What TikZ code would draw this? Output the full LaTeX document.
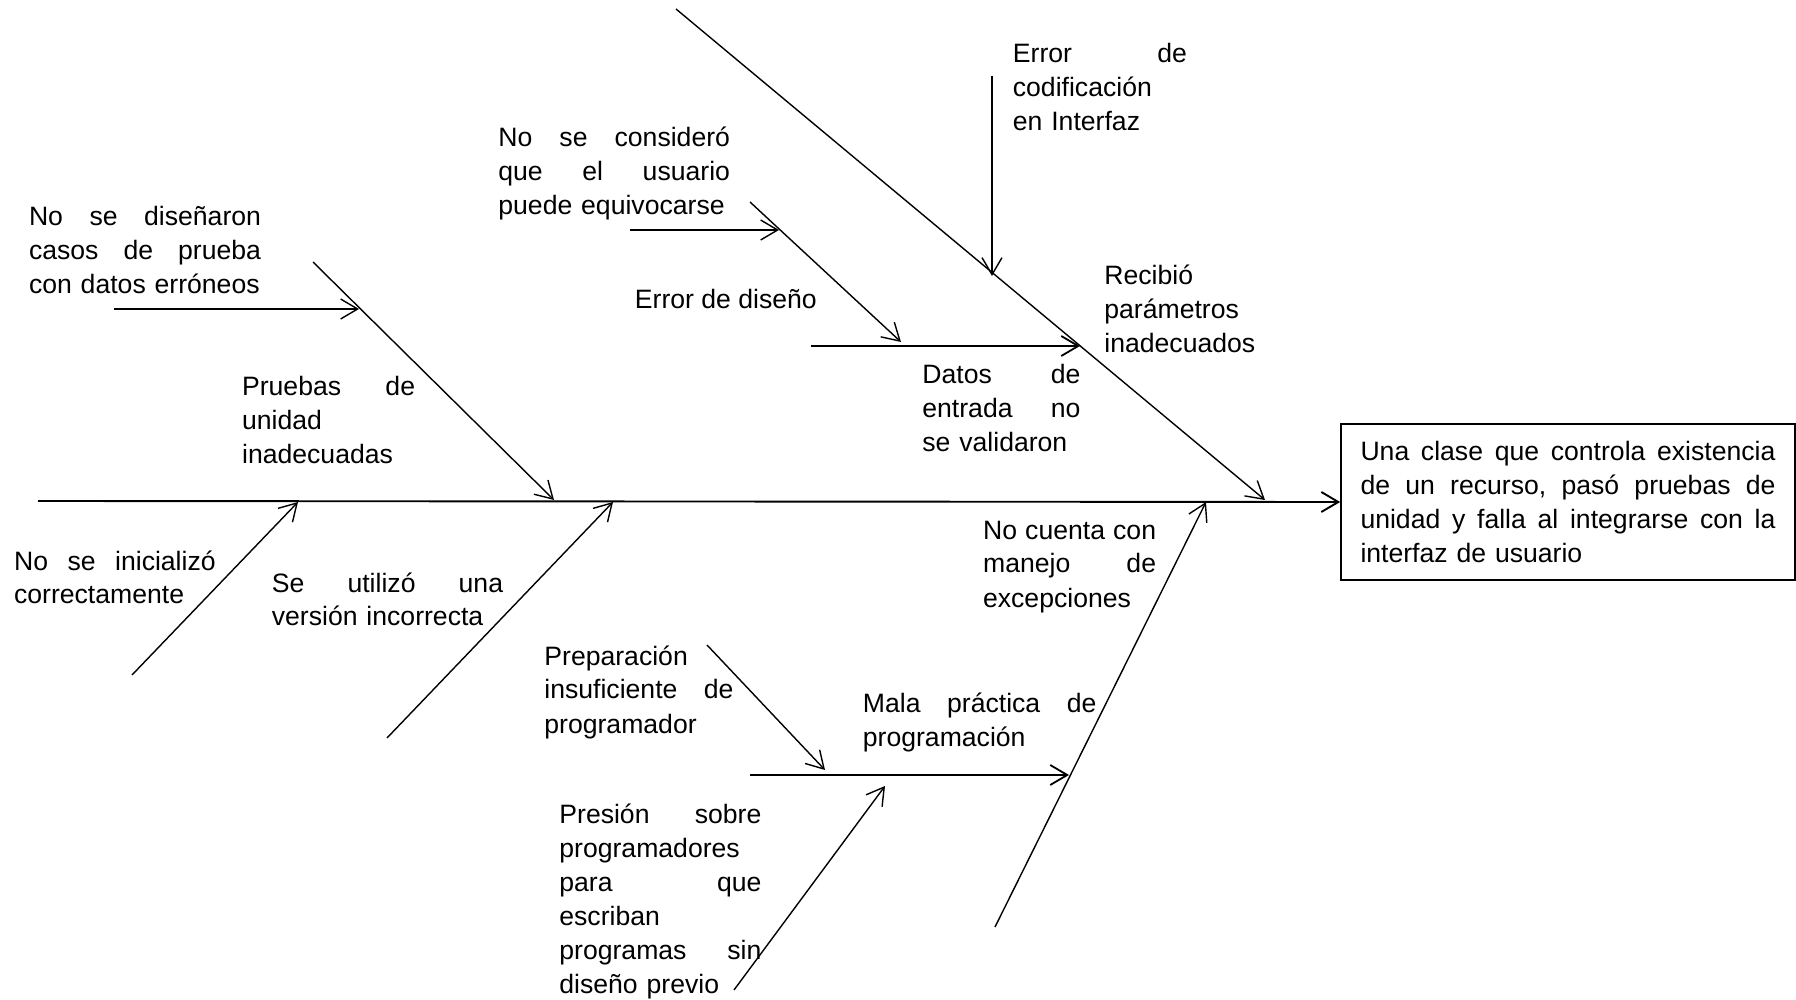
\documentclass[tikz,border=0pt]{standalone}
\usepackage{fontspec}
\setmainfont{Liberation Sans}
\usetikzlibrary{arrows.meta}
% one justified line: words separated by \hfill, spread to the label width
\newcommand\jwidth{100pt}
\newcommand\jl[1]{\leavevmode\hbox to \jwidth{#1}}
\begin{document}
\begin{tikzpicture}[x=0.5pt,y=-0.5pt,
  tip/.style={-{Straight Barb[length=8.5pt,width=10pt]}},
  spine/.style={tip,line width=0.95pt},
  bone/.style={tip,line width=0.7pt},
  twig/.style={tip,line width=0.9pt},
  label/.style={inner sep=0pt,anchor=base west,align=left,
    font=\fontsize{13.3pt}{17pt}\selectfont},
  jw/.style={text width=#1,execute at begin node={\renewcommand\jwidth{#1}}},
  effectbox/.style={draw,line width=0.8pt,inner sep=0pt,align=left,
    jw=207.5pt,minimum width=227pt,minimum height=78pt,
    font=\fontsize{13.3pt}{17pt}\selectfont}]
\useasboundingbox (0,0) rectangle (1796,1000);

% effect
\node[effectbox] (effect) at (1568,502)
  {\jl{Una\hfill clase\hfill que\hfill controla\hfill existencia}\\
   \jl{de\hfill un\hfill recurso,\hfill pasó\hfill pruebas\hfill de}\\
   \jl{unidad\hfill y\hfill falla\hfill al\hfill integrarse\hfill con\hfill la}\\
   interfaz de usuario};

% spine and bone end points
\coordinate (spineL) at (38,501);
\coordinate (b1s) at (313,262);  \coordinate (b1e) at (554,500);
\coordinate (b2s) at (676,9);    \coordinate (b2e) at (1265,500);
\coordinate (b3s) at (132,675);  \coordinate (b3e) at (298,502);
\coordinate (b4s) at (387,738);  \coordinate (b4e) at (613,502);
\coordinate (b5s) at (995,927);  \coordinate (b5e) at (1206,502);
% secondary causes
\coordinate (t1s) at (114,309);  \coordinate (t1e) at (359,309);
\coordinate (t2s) at (992,76);   \coordinate (t2e) at (992,276);
\coordinate (t3s) at (811,346);  \coordinate (t3e) at (1080,346);
\coordinate (t4s) at (750,202);  \coordinate (t4e) at (901,342);
\coordinate (t5s) at (630,230);  \coordinate (t5e) at (779,230);
\coordinate (t6s) at (750,775);  \coordinate (t6e) at (1069,775);
\coordinate (t7s) at (707,645);  \coordinate (t7e) at (825,770);
\coordinate (t8s) at (734,990);  \coordinate (t8e) at (885,786);

\draw[spine] (spineL) -- (effect.west);
\foreach \b in {b1,b2,b3,b4,b5} \draw[bone] (\b s) -- (\b e);
\draw[bone] (t1s) -- (t1e);
\draw[bone] (t2s) -- (t2e);
\draw[twig] (t3s) -- (t3e);
\draw[bone] (t4s) -- (t4e);
\draw[bone] (t5s) -- (t5e);
\draw[twig] (t6s) -- (t6e);
\draw[bone] (t7s) -- (t7e);
\draw[bone] (t8s) -- (t8e);

% cause labels
\node[label,jw=116pt] (nodis) at (28.6,225.5)
  {\jl{No\hfill se\hfill diseñaron}\\ \jl{casos\hfill de\hfill prueba}\\
   con datos erróneos};
\node[label,jw=86.5pt] (pruebas) at (241.7,396)
  {\jl{Pruebas\hfill de}\\ unidad\\ inadecuadas};
\node[label,jw=87pt] (errcod) at (1012.5,62.8)
  {\jl{Error\hfill de}\\ codificación\\ en Interfaz};
\node[label,jw=115.8pt] (nocons) at (498,146.4)
  {\jl{No\hfill se\hfill consideró}\\ \jl{que\hfill el\hfill usuario}\\
   puede equivocarse};
\node[label] (errdis) at (634.5,309) {Error de diseño};
\node[label,text width=100pt] (recibio) at (1104,285)
  {Recibió\\ parámetros\\ inadecuados};
\node[label,jw=79pt] (datos) at (922,383.5)
  {\jl{Datos\hfill de}\\ \jl{entrada\hfill no}\\ se validaron};
\node[label,jw=100.8pt] (noinic) at (13.7,570)
  {\jl{No\hfill se\hfill inicializó}\\ correctamente};
\node[label,jw=115.6pt] (seutil) at (271.5,592)
  {\jl{Se\hfill utilizó\hfill una}\\ versión incorrecta};
\node[label,jw=86.5pt] (nocuenta) at (982.7,539)
  {\jl{No\hfill cuenta\hfill con}\\ \jl{manejo\hfill de}\\ excepciones};
\node[label,jw=116.8pt] (mala) at (862.5,712)
  {\jl{Mala\hfill práctica\hfill de}\\ programación};
\node[label,jw=94.5pt] (prep) at (544,665)
  {Preparación\\ \jl{insuficiente\hfill de}\\ programador};
\node[label,jw=101pt] (presion) at (559,823)
  {\jl{Presión\hfill sobre}\\ programadores\\ \jl{para\hfill que}\\ escriban\\
   \jl{programas\hfill sin}\\ diseño previo};
\end{tikzpicture}
\end{document}
